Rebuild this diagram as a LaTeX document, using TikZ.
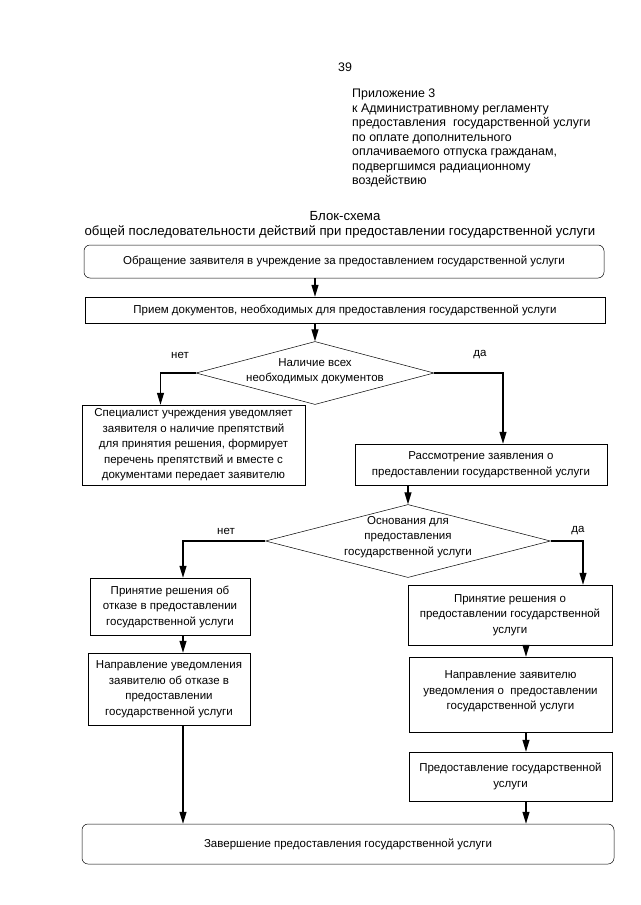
\documentclass[tikz,border=0pt]{standalone}
\usepackage{fontspec}
\setmainfont{Liberation Sans}
\usetikzlibrary{shapes.geometric,arrows.meta}

\begin{document}
\begin{tikzpicture}[x=1pt,y=-1pt,
    font=\fontsize{11.5}{15.5}\selectfont,
    box/.style={draw,line width=0.5pt,align=center,inner sep=2pt},
    rbox/.style={box,rounded corners=6pt},
    decision/.style={draw,line width=0.5pt,shape=diamond,inner sep=0pt},
    arr/.style={-{Triangle[length=12pt,width=7pt]},line width=1.1pt},
    lbl/.style={inner sep=0pt},
    head/.style={lbl,font=\fontsize{12.4}{14.5}\selectfont},
    titl/.style={lbl,font=\fontsize{13.2}{16}\selectfont}]
    \useasboundingbox (0,0) rectangle (640,905);

    % Page header
    \node[head] (page) at (345,67) {39};
    \node[head,anchor=north west,align=left] (pril) at (352,89)
        {Приложение 3\\к Административному регламенту\\предоставления\ \ государственной услуги\\по оплате дополнительного\\оплачиваемого отпуска гражданам,\\подвергшимся радиационному\\воздействию};
    \node[titl] (title) at (345,216) {Блок-схема};
    \node[titl] (subtitle) at (340,232) {общей последовательности действий при предоставлении государственной услуги};

    % Column positions of the lower arrows
    \coordinate (lcol) at (183,0);
    \coordinate (rcol) at (526,0);

    % Boxes
    \node[rbox,minimum width=520,minimum height=33] (obr) at (344,261.5) {Обращение заявителя в учреждение за предоставлением государственной услуги};
    \node[box,minimum width=520,minimum height=26] (priem) at (345,310) {Прием документов, необходимых для предоставления государственной услуги};
    \node[decision,minimum width=238,minimum height=63,
        label={[align=center,yshift=2pt]center:Наличие всех\\необходимых документов}] (d1) at (315,373) {};
    \node[box,minimum width=223,minimum height=80] (spec) at (193.5,445)
        {Специалист учреждения уведомляет\\заявителя о наличие препятствий\\для принятия решения, формирует\\перечень препятствий и вместе с\\документами передает заявителю};
    \node[box,minimum width=252,minimum height=41] (rass) at (481,464.5)
        {Рассмотрение заявления о\\предоставлении государственной услуги};
    \node[decision,minimum width=285,minimum height=73,
        label={[align=center,yshift=4pt]center:Основания для\\предоставления\\государственной услуги}] (d2) at (408,541) {};
    \node[box,minimum width=160,minimum height=57] (otk) at (170,606.5)
        {Принятие решения об\\отказе в предоставлении\\государственной услуги};
    \node[box,minimum width=162,minimum height=72] (napr1) at (169,689)
        {Направление уведомления\\заявителю об отказе в\\предоставлении\\государственной услуги};
    \node[box,minimum width=204,minimum height=60] (prin) at (510,615)
        {Принятие решения о\\предоставлении государственной\\услуги};
    \node[box,minimum width=203,minimum height=75,text depth=8pt] (napr2) at (510.5,694.5)
        {Направление заявителю\\уведомления о\ \ предоставлении\\государственной услуги};
    \node[box,minimum width=203,minimum height=49] (pred) at (510.5,776.5)
        {Предоставление государственной\\услуги};
    \node[rbox,minimum width=532,minimum height=40] (fin) at (348,844)
        {Завершение предоставления государственной услуги};

    % Branch labels
    \node[lbl] (no1) at (180,355) {нет};
    \node[lbl] (yes1) at (480,355) {да};
    \node[lbl] (no2) at (226,531) {нет};
    \node[lbl] (yes2) at (578,531) {да};

    % Arrows
    \draw[arr] (obr.south -| d1) -- (priem.north -| d1);
    \draw[arr] (priem.south -| d1) -- (d1.north);
    \draw[arr] (d1.west) -| ([xshift=-33pt]spec.north);
    \draw[arr] (d1.east) -| ([xshift=22pt]rass.north);
    \draw[arr] (rass.south -| d2) -- (d2.north);
    \draw[arr] (d2.west) -| (otk.north -| lcol);
    \draw[arr] (otk.south -| lcol) -- (napr1.north -| lcol);
    \draw[arr] (napr1.south -| lcol) -- (fin.north -| lcol);
    \draw[arr] (d2.east) -| ([xshift=73pt]prin.north);
    \draw[arr] (prin.south -| rcol) -- (napr2.north -| rcol);
    \draw[arr] (napr2.south -| rcol) -- (pred.north -| rcol);
    \draw[arr] (pred.south -| rcol) -- (fin.north -| rcol);
\end{tikzpicture}
\end{document}
